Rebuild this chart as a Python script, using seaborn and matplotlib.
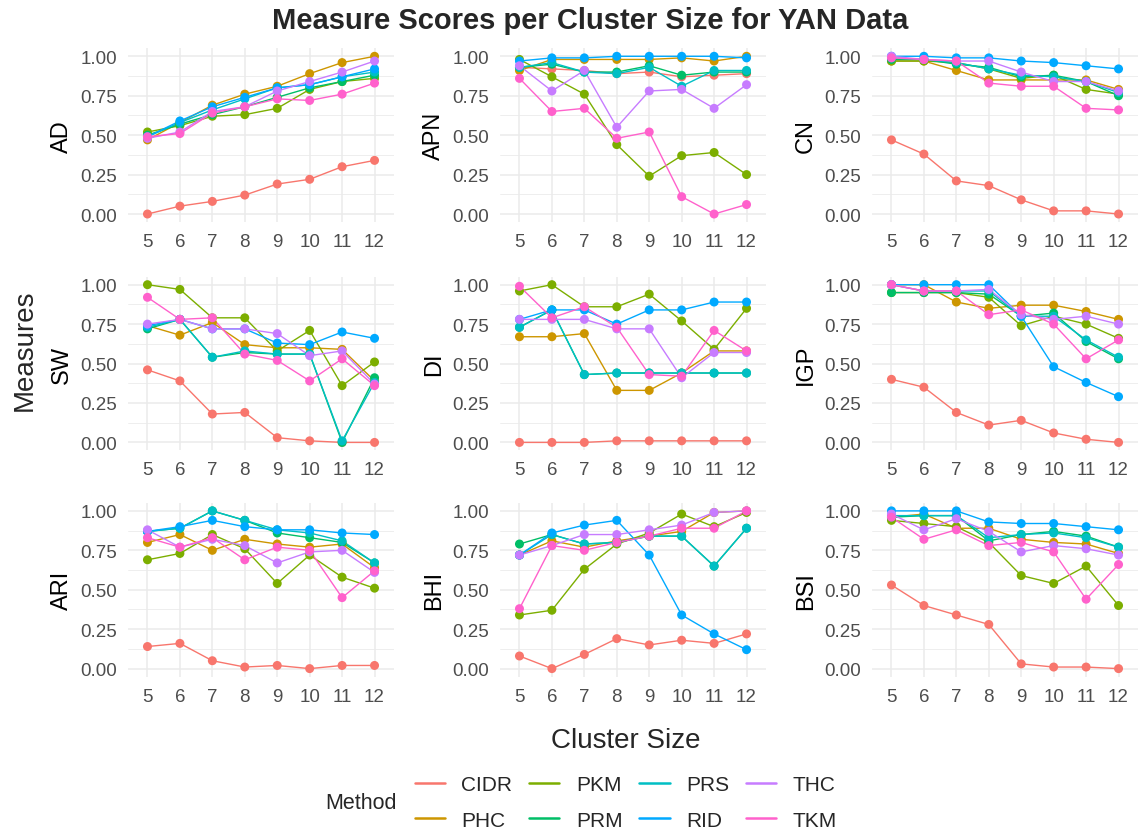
import matplotlib
matplotlib.use("Agg")
import matplotlib.pyplot as plt
import seaborn as sns
import pandas as pd
from matplotlib.lines import Line2D

cluster_sizes = [5, 6, 7, 8, 9, 10, 11, 12]
methods = ["CIDR", "PHC", "PKM", "PRM", "PRS", "RID", "THC", "TKM"]
colors = ["#F8766D", "#CD9600", "#7CAE00", "#00BE67", "#00BFC4", "#00A9FF", "#C77CFF", "#FF61CC"]
measures = ["AD", "APN", "CN", "SW", "DI", "IGP", "ARI", "BHI", "BSI"]

AD = {
    "CIDR": [0.00, 0.05, 0.08, 0.12, 0.19, 0.22, 0.30, 0.34],
    "PHC": [0.47, 0.58, 0.69, 0.76, 0.81, 0.89, 0.96, 1.00],
    "PKM": [0.52, 0.56, 0.62, 0.63, 0.67, 0.79, 0.84, 0.86],
    "PRM": [0.50, 0.57, 0.63, 0.68, 0.74, 0.80, 0.84, 0.88],
    "PRS": [0.49, 0.58, 0.66, 0.73, 0.80, 0.82, 0.87, 0.90],
    "RID": [0.49, 0.59, 0.68, 0.74, 0.80, 0.82, 0.87, 0.92],
    "THC": [0.48, 0.52, 0.65, 0.68, 0.78, 0.84, 0.90, 0.97],
    "TKM": [0.49, 0.51, 0.64, 0.68, 0.73, 0.72, 0.76, 0.83],
}
APN = {
    "CIDR": [0.93, 0.92, 0.91, 0.89, 0.90, 0.87, 0.88, 0.89],
    "PHC": [0.91, 0.98, 0.98, 0.98, 0.98, 0.99, 0.97, 1.00],
    "PKM": [0.98, 0.87, 0.76, 0.44, 0.24, 0.37, 0.39, 0.25],
    "PRM": [0.93, 0.95, 0.90, 0.90, 0.94, 0.88, 0.90, 0.90],
    "PRS": [0.93, 0.96, 0.90, 0.89, 0.93, 0.81, 0.91, 0.91],
    "RID": [0.97, 0.99, 0.99, 1.00, 1.00, 1.00, 1.00, 0.99],
    "THC": [0.94, 0.78, 0.91, 0.55, 0.78, 0.79, 0.67, 0.82],
    "TKM": [0.86, 0.65, 0.67, 0.48, 0.52, 0.11, 0.00, 0.06],
}
CN = {
    "CIDR": [0.47, 0.38, 0.21, 0.18, 0.09, 0.02, 0.02, 0.00],
    "PHC": [0.97, 0.97, 0.91, 0.85, 0.85, 0.85, 0.85, 0.79],
    "PKM": [0.97, 0.97, 0.96, 0.92, 0.86, 0.88, 0.79, 0.76],
    "PRM": [0.98, 0.98, 0.95, 0.93, 0.87, 0.88, 0.84, 0.75],
    "PRS": [0.99, 0.98, 0.96, 0.92, 0.88, 0.87, 0.84, 0.77],
    "RID": [1.00, 1.00, 0.99, 0.99, 0.97, 0.96, 0.94, 0.92],
    "THC": [1.00, 0.98, 0.97, 0.97, 0.90, 0.84, 0.84, 0.78],
    "TKM": [0.99, 0.98, 0.97, 0.83, 0.81, 0.81, 0.67, 0.66],
}
SW = {
    "CIDR": [0.46, 0.39, 0.18, 0.19, 0.03, 0.01, 0.00, 0.00],
    "PHC": [0.74, 0.68, 0.76, 0.62, 0.60, 0.60, 0.59, 0.39],
    "PKM": [1.00, 0.97, 0.79, 0.79, 0.58, 0.71, 0.36, 0.51],
    "PRM": [0.72, 0.78, 0.54, 0.57, 0.56, 0.56, 0.00, 0.41],
    "PRS": [0.73, 0.78, 0.54, 0.58, 0.56, 0.56, 0.01, 0.38],
    "RID": [0.74, 0.78, 0.72, 0.72, 0.63, 0.62, 0.70, 0.66],
    "THC": [0.75, 0.78, 0.72, 0.72, 0.69, 0.55, 0.58, 0.37],
    "TKM": [0.92, 0.78, 0.79, 0.56, 0.52, 0.39, 0.53, 0.36],
}
DI = {
    "CIDR": [0.00, 0.00, 0.00, 0.01, 0.01, 0.01, 0.01, 0.01],
    "PHC": [0.67, 0.67, 0.69, 0.33, 0.33, 0.44, 0.58, 0.58],
    "PKM": [0.96, 1.00, 0.86, 0.86, 0.94, 0.77, 0.59, 0.85],
    "PRM": [0.73, 0.84, 0.43, 0.44, 0.44, 0.44, 0.44, 0.44],
    "PRS": [0.73, 0.84, 0.43, 0.44, 0.44, 0.44, 0.44, 0.44],
    "RID": [0.78, 0.84, 0.84, 0.75, 0.84, 0.84, 0.89, 0.89],
    "THC": [0.78, 0.78, 0.78, 0.72, 0.72, 0.41, 0.57, 0.57],
    "TKM": [0.99, 0.79, 0.86, 0.73, 0.43, 0.42, 0.71, 0.58],
}
IGP = {
    "CIDR": [0.40, 0.35, 0.19, 0.11, 0.14, 0.06, 0.02, 0.00],
    "PHC": [1.00, 1.00, 0.89, 0.85, 0.87, 0.87, 0.83, 0.78],
    "PKM": [0.95, 0.95, 0.95, 0.92, 0.74, 0.80, 0.75, 0.66],
    "PRM": [0.95, 0.95, 0.95, 0.94, 0.80, 0.82, 0.64, 0.53],
    "PRS": [1.00, 0.96, 0.96, 0.96, 0.80, 0.80, 0.65, 0.54],
    "RID": [1.00, 1.00, 1.00, 1.00, 0.80, 0.48, 0.38, 0.29],
    "THC": [1.00, 0.96, 0.96, 0.97, 0.81, 0.78, 0.80, 0.75],
    "TKM": [1.00, 0.96, 0.96, 0.81, 0.84, 0.75, 0.53, 0.65],
}
ARI = {
    "CIDR": [0.14, 0.16, 0.05, 0.01, 0.02, 0.00, 0.02, 0.02],
    "PHC": [0.80, 0.85, 0.75, 0.82, 0.79, 0.77, 0.79, 0.64],
    "PKM": [0.69, 0.73, 0.85, 0.76, 0.54, 0.72, 0.58, 0.51],
    "PRM": [0.87, 0.89, 1.00, 0.94, 0.86, 0.83, 0.80, 0.67],
    "PRS": [0.87, 0.89, 1.00, 0.94, 0.88, 0.86, 0.81, 0.67],
    "RID": [0.87, 0.90, 0.94, 0.90, 0.88, 0.88, 0.86, 0.85],
    "THC": [0.88, 0.77, 0.82, 0.78, 0.67, 0.74, 0.75, 0.61],
    "TKM": [0.83, 0.77, 0.83, 0.69, 0.77, 0.75, 0.45, 0.62],
}
BHI = {
    "CIDR": [0.08, 0.00, 0.09, 0.19, 0.15, 0.18, 0.16, 0.22],
    "PHC": [0.72, 0.81, 0.77, 0.81, 0.84, 0.87, 0.99, 1.00],
    "PKM": [0.34, 0.37, 0.63, 0.79, 0.86, 0.98, 0.90, 0.99],
    "PRM": [0.79, 0.85, 0.79, 0.80, 0.84, 0.84, 0.65, 0.89],
    "PRS": [0.72, 0.85, 0.79, 0.80, 0.84, 0.84, 0.65, 0.89],
    "RID": [0.72, 0.86, 0.91, 0.94, 0.72, 0.34, 0.22, 0.12],
    "THC": [0.72, 0.78, 0.85, 0.85, 0.88, 0.91, 0.99, 1.00],
    "TKM": [0.38, 0.78, 0.75, 0.80, 0.84, 0.89, 0.89, 1.00],
}
BSI = {
    "CIDR": [0.53, 0.40, 0.34, 0.28, 0.03, 0.01, 0.01, 0.00],
    "PHC": [0.96, 0.98, 0.89, 0.89, 0.82, 0.80, 0.79, 0.73],
    "PKM": [0.94, 0.92, 0.90, 0.80, 0.59, 0.54, 0.65, 0.40],
    "PRM": [0.96, 0.97, 0.97, 0.81, 0.85, 0.87, 0.84, 0.77],
    "PRS": [0.97, 0.97, 0.97, 0.83, 0.85, 0.86, 0.83, 0.77],
    "RID": [1.00, 1.00, 1.00, 0.93, 0.92, 0.92, 0.90, 0.88],
    "THC": [0.98, 0.88, 0.95, 0.87, 0.74, 0.78, 0.76, 0.72],
    "TKM": [0.96, 0.82, 0.88, 0.78, 0.80, 0.74, 0.44, 0.66],
}
measure_data = {"AD": AD, "APN": APN, "CN": CN, "SW": SW, "DI": DI,
                "IGP": IGP, "ARI": ARI, "BHI": BHI, "BSI": BSI}

rows = []
for meas in measures:
    for meth in methods:
        for s, v in zip(cluster_sizes, measure_data[meas][meth]):
            rows.append({"Measure": meas, "Method": meth, "Size": s, "Score": v})
df = pd.DataFrame(rows)
palette = dict(zip(methods, colors))

sns.set_theme(style="white")
plt.rcParams["font.family"] = ["Liberation Sans", "DejaVu Sans"]

fig = plt.figure(figsize=(11.4, 8.37), dpi=100)
W, H = 1140.0, 837.0
col_left = [128 / W, 500 / W, 872 / W]
pw = 266 / W
row_top = [49.4, 277.8, 504.0]
ph_px = 173.5

grid_col = "#EBEBEB"
tick_col = "#4D4D4D"

for i, meas in enumerate(measures):
    r, c = divmod(i, 3)
    ax = fig.add_axes([col_left[c], 1 - (row_top[r] + ph_px) / H, pw, ph_px / H])
    sub = df[df["Measure"] == meas]
    sns.lineplot(data=sub, x="Size", y="Score", hue="Method", hue_order=methods,
                 palette=palette, ax=ax, legend=False, linewidth=1.0,
                 estimator=None, sort=False, zorder=2)
    sns.scatterplot(data=sub, x="Size", y="Score", hue="Method", hue_order=methods,
                    palette=palette, ax=ax, legend=False, s=42, linewidth=0, zorder=3)
    ax.set_xlim(4.4, 12.6)
    ax.set_ylim(-0.05, 1.05)
    ax.set_xticks(cluster_sizes)
    ax.set_xticklabels([str(s) for s in cluster_sizes])
    ax.set_yticks([0, 0.25, 0.5, 0.75, 1.0])
    ax.set_yticklabels(["0.00", "0.25", "0.50", "0.75", "1.00"])
    ax.set_yticks([0.125, 0.375, 0.625, 0.875], minor=True)
    ax.grid(True, which="major", color=grid_col, linewidth=1.1, zorder=0)
    ax.grid(True, which="minor", axis="y", color=grid_col, linewidth=0.6, zorder=0)
    ax.set_axisbelow(True)
    for sp in ax.spines.values():
        sp.set_visible(False)
    ax.tick_params(axis="both", which="both", length=0, labelsize=13.5,
                   labelcolor=tick_col, pad=8)
    ax.set_xlabel("")
    ax.set_ylabel(meas, fontsize=17, color="black", labelpad=5)

fig.text(0.5175, 1 - 21 / H, "Measure Scores per Cluster Size for YAN Data",
         ha="center", va="center", fontsize=21, fontweight="bold")
fig.text(25 / W, 1 - 350 / H, "Measures", rotation=90, ha="center", va="center",
         fontsize=20)
fig.text(0.549, 1 - 741 / H, "Cluster Size", ha="center", va="center",
         fontsize=20)

handles = [Line2D([0], [0], color=col, lw=1.8) for col in colors]
fig.legend(handles, methods, ncol=4, loc="center",
           bbox_to_anchor=(0.549, 1 - 803.5 / H), frameon=False,
           fontsize=15, handlelength=1.45, handletextpad=0.8,
           columnspacing=0.8, labelspacing=0.78)
fig.text(325 / W, 1 - 803.5 / H, "Method", ha="left", va="center", fontsize=15.5)

fig.savefig("out.png", dpi=100)
